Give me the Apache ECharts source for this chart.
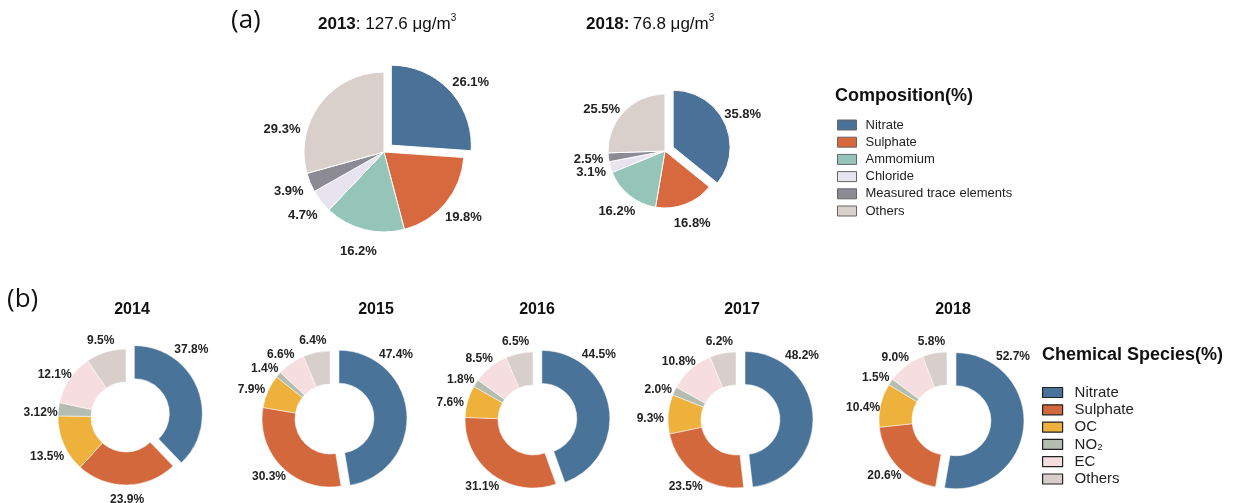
<!DOCTYPE html>
<html><head><meta charset="utf-8">
<script src="https://cdn.jsdelivr.net/npm/echarts@6/dist/echarts.min.js"></script>
<style>html,body{margin:0;padding:0;background:#fff}#c{width:1233px;height:503px}</style>
</head><body><div id="c"></div>
<script>
// ---- data ----
const compNames = ['Nitrate','Sulphate','Ammomium','Chloride','Measured trace elements','Others'];
const comp2013 = [26.1,19.8,16.2,4.7,3.9,29.3];
const comp2018 = [35.8,16.8,16.2,3.1,2.5,25.5];
const speciesNames = ['Nitrate','Sulphate','OC','NO\u2082','EC','Others'];
const years = ['2014','2015','2016','2017','2018'];
const sp2014 = [37.8,23.9,13.5,3.12,12.1,9.5];
const sp2015 = [47.4,30.3,7.9,1.4,6.6,6.4];
const sp2016 = [44.5,31.1,7.6,1.8,8.5,6.5];
const sp2017 = [48.2,23.5,9.3,2.0,10.8,6.2];
const sp2018 = [52.7,20.6,10.4,1.5,9.0,5.8];
const speciesData = [sp2014,sp2015,sp2016,sp2017,sp2018];

// ---- styles ----
const compColors = ['#4a7197','#d8683e','#95c5b9','#e7e4f0','#8c8b93','#d9d0cc'];
const spColors = ['#4a7399','#d3683d','#eeb13c','#b5bdb0','#f6dde0','#d8cecb'];
const FONT = 'Liberation Sans';

const fmt = p => {
  const v = p.value;
  return (Math.round(v*10)/10 === v ? v.toFixed(1) : String(v)) + '%';
};

function mk(names, vals, colors){
  return names.map((n,i)=>({name:n, value:vals[i], selected:i===0, itemStyle:{color:colors[i]}}));
}
function mkGhost(names, vals){
  return names.map((n,i)=>({name:n, value:vals[i], selected:i===0}));
}

const series = [];
// a pie plus a transparent outer ring that carries the value labels
function addPie(name, names, vals, colors, center, r0, r, offset, labelGap, fontSize, labelLayout, border){
  series.push({type:'pie', name:name, center:center, radius:[r0, r], selectedMode:'single', selectedOffset:offset,
    startAngle:90, clockwise:true, label:{show:false}, labelLine:{show:false},
    itemStyle:{borderColor:'#fff',borderWidth:border}, emphasis:{disabled:true}, silent:true,
    data:mk(names, vals, colors)});
  series.push({type:'pie', name:name+'-labels', center:center, radius:[r, r+2*labelGap], selectedMode:'single', selectedOffset:offset,
    startAngle:90, clockwise:true,
    label:{show:true, position:'inside', formatter:fmt, fontFamily:FONT, fontWeight:'bold', fontSize:fontSize, color:'#222', overflow:'none'},
    labelLine:{show:false}, labelLayout:labelLayout,
    itemStyle:{color:'rgba(0,0,0,0)'}, emphasis:{disabled:true}, silent:true,
    data:mkGhost(names, vals)});
}

addPie('2013', compNames, comp2013, compColors, [384,152], 0, 80, 10, 20, 13,
  p => p.dataIndex === 5 ? {dx:-20, dy:40} : (p.dataIndex === 0 ? {dx:4, dy:8} : null), 1);
addPie('2018a', compNames, comp2018, compColors, [665,151], 0, 57, 9, 17, 13,
  p => p.dataIndex === 5 ? {dx:-8, dy:12} : null, 1);

const donutCenters = [[126,417],[330,419],[533,420],[736,420],[947,420]];
years.forEach((y,k)=>{
  const c = donutCenters[k];
  addPie(y, speciesNames, speciesData[k], spColors, c, 35, 68, 9, 15, 12,
    p => {
      if (p.dataIndex === 0) {
        const r = p.labelRect;
        return {dx: c[0] + 57 - (r.x + r.width/2), dy: c[1] - 64 - (r.y + r.height/2)};
      }
      if (p.dataIndex === 1) return {dy:-3};
      return {dy:6};
    }, 0.5);
});

const yearTitleX = [132,376,537,742,953];
const supRich = {
  b:{fontFamily:FONT,fontWeight:'bold',fontSize:17,fill:'#111'},
  n:{fontFamily:FONT,fontSize:17,fill:'#111'},
  s:{fontFamily:FONT,fontSize:10,fill:'#111',padding:[0,0,12,0]}
};
const graphics = [
  {type:'text', x:231, y:21, style:{text:'(a)', font:'26px "Open Sans"', fill:'#111', textVerticalAlign:'middle'}},
  {type:'text', x:7, y:300, style:{text:'(b)', font:'26px "Open Sans"', fill:'#111', textVerticalAlign:'middle'}},
  {type:'text', x:318, y:24, style:{text:'{b|2013}{n|: 127.6 μg/m}{s|3}', textVerticalAlign:'middle', rich:supRich}},
  {type:'text', x:586, y:24, style:{text:'{b|2018:} {n|76.8 μg/m}{s|3}', textVerticalAlign:'middle', rich:supRich}},
  {type:'text', x:835, y:96, style:{text:'Composition(%)', font:'bold 18px "Liberation Sans"', fill:'#111', textVerticalAlign:'middle'}},
  {type:'text', x:1042, y:355, style:{text:'Chemical Species(%)', font:'bold 18px "Liberation Sans"', fill:'#111', textVerticalAlign:'middle'}}
];
years.forEach((y,k)=>graphics.push({type:'text', x:yearTitleX[k], y:310, style:{text:y, font:'bold 16px "Liberation Sans"', fill:'#111', textAlign:'center', textVerticalAlign:'middle'}}));

const option = {
  animation:false,
  backgroundColor:'#fff',
  legend:[
    {orient:'vertical', left:837, top:118, padding:0, icon:'rect', itemWidth:19, itemHeight:10, itemGap:3.2,
     selectedMode:false,
     itemStyle:{borderColor:'#666',borderWidth:1},
     textStyle:{fontFamily:FONT,fontSize:13,color:'#222',lineHeight:14,padding:[0,0,0,4]},
     data:compNames.map((n,i)=>({name:n,itemStyle:{color:compColors[i]}}))},
    {orient:'vertical', left:1042, top:385, padding:0, icon:'rect', itemWidth:20, itemHeight:10, itemGap:2.3,
     selectedMode:false,
     itemStyle:{borderColor:'#222',borderWidth:1.2},
     textStyle:{fontFamily:FONT,fontSize:15,color:'#222',lineHeight:15,padding:[0,0,0,7]},
     data:speciesNames.map((n,i)=>({name:n,itemStyle:{color:spColors[i]}}))}
  ],
  graphic:graphics,
  series:series
};
const chart = echarts.init(document.getElementById('c'), null, {renderer:'canvas'});
chart.setOption(option);
</script></body></html>
